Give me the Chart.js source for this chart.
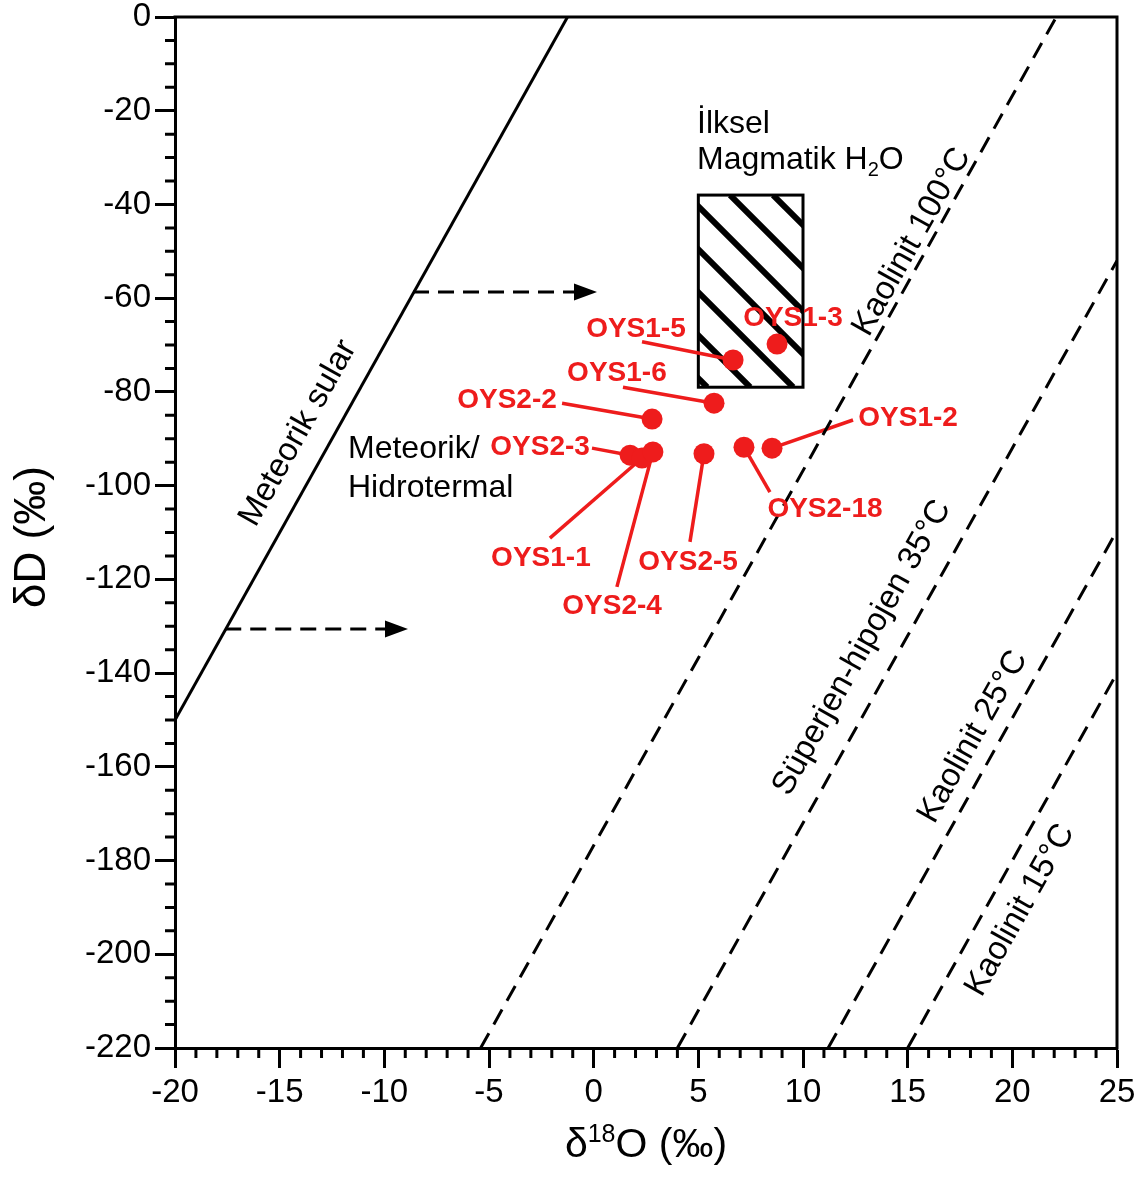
<!DOCTYPE html>
<html>
<head>
<meta charset="utf-8">
<title>δD - δ18O</title>
<script src="https://cdn.jsdelivr.net/npm/chart.js@4.4.1/dist/chart.umd.min.js"></script>
<style>
    html, body { margin: 0; padding: 0; background: #fff; }
    #wrap { width: 1147px; height: 1178px; }
</style>
</head>
<body>
<div id="wrap"><canvas id="isoChart" width="1147" height="1178"></canvas></div>
<script>
// Samples
const sampleNames = ['OYS1-3', 'OYS1-5', 'OYS1-6', 'OYS2-2', 'OYS2-3', 'OYS1-1', 'OYS2-4', 'OYS2-5', 'OYS2-18', 'OYS1-2'];
const sampleO = [8.76, 6.66, 5.75, 2.79, 1.74, 2.31, 2.83, 5.27, 7.18, 8.52];
const sampleD = [-69.8, -73.2, -82.4, -85.8, -93.5, -94.1, -92.8, -93.2, -91.8, -92.0];

// Reference lines, end points
const meteoricO = [-20, -1.25];
const meteoricD = [-150, 0];
const kaol100O = [-5.4, 22.1];
const kaol100D = [-220, 0];
const super35O = [4.0, 25];
const super35D = [-220, -52];
const kaol25O = [11.2, 25];
const kaol25D = [-220, -109.6];
const kaol15O = [15.0, 25];
const kaol15D = [-220, -140];

// Primary magmatic water field
const magmaticO = [5, 10];
const magmaticD = [-79, -38];

// Axis ranges / ticks
const xRange = [-20, 25];
const yRange = [-220, 0];
const xStep = 5, xMinor = 1;
const yStep = 20, yMinor = 5;

// Annotation layout (data units)
const sampleLabelPos = [
    [9.52, -64.2], [2.02, -66.6], [1.11, -76.0], [-4.14, -81.7], [-2.56, -91.8],
    [-2.52, -115.4], [0.88, -125.7], [4.51, -116.3], [11.05, -105.0], [15.02, -85.6]
];
const leaderStart = [
    null, [2.31, -69.3], [1.40, -79.0], [-1.51, -82.4], [-0.08, -92.0],
    [-2.09, -111.2], [1.11, -121.6], [4.60, -112.0], [8.42, -101.4], [12.39, -86.0]
];
const lineLabels = [
    { text: 'Meteorik sular', at: [-14.12, -88.8] },
    { text: 'Kaolinit 100°C', at: [15.2, -48.0] },
    { text: 'Süperjen-hipojen 35°C', at: [12.82, -134.6] },
    { text: 'Kaolinit 25°C', at: [18.12, -153.6] },
    { text: 'Kaolinit 15°C', at: [20.37, -190.6] }
];
const arrows = [
    [[-8.63, -58.7], [0.16, -58.7]],
    [[-17.6, -130.6], [-8.87, -130.6]]
];

const FONT = "'Liberation Sans', Arial, Helvetica, sans-serif";
const RED = '#ee1c1c';

const pairs = (xs, ys) => xs.map((v, i) => ({ x: v, y: ys[i] }));

const lineSet = (xs, ys, dashed) => ({
    type: 'line',
    data: pairs(xs, ys),
    borderColor: '#000',
    borderWidth: 3,
    borderDash: dashed ? [17, 10] : [],
    pointRadius: 0,
    fill: false,
    order: 2
});

function noPad(s) {
    s.paddingLeft = 0; s.paddingRight = 0; s.paddingTop = 0; s.paddingBottom = 0;
}

const overlay = {
    id: 'overlay',
    beforeDatasetsDraw(chart) {
        const { ctx, scales: { x, y } } = chart;
        const px = v => x.getPixelForValue(v);
        const py = v => y.getPixelForValue(v);

        // hatched magmatic box
        const L = px(magmaticO[0]), R = px(magmaticO[1]);
        const T = py(magmaticD[1]), B = py(magmaticD[0]);
        ctx.save();
        ctx.beginPath();
        ctx.rect(L, T, R - L, B - T);
        ctx.clip();
        ctx.strokeStyle = '#000';
        ctx.lineWidth = 6;
        // stripes x - y = c, going down-right
        const gap = 43;
        let c = 363;
        while (c > L - B) c -= gap;
        for (; c < R - T; c += gap) {
            ctx.beginPath();
            ctx.moveTo(T + c, T);
            ctx.lineTo(B + c, B);
            ctx.stroke();
        }
        ctx.restore();
        ctx.save();
        ctx.strokeStyle = '#000';
        ctx.lineWidth = 3;
        ctx.strokeRect(L, T, R - L, B - T);
        ctx.restore();

        // leader lines
        ctx.save();
        ctx.strokeStyle = RED;
        ctx.lineWidth = 3.5;
        leaderStart.forEach((p, i) => {
            if (!p) return;
            ctx.beginPath();
            ctx.moveTo(px(p[0]), py(p[1]));
            ctx.lineTo(px(sampleO[i]), py(sampleD[i]));
            ctx.stroke();
        });
        ctx.restore();

        // dashed arrows
        ctx.save();
        ctx.strokeStyle = '#000';
        ctx.fillStyle = '#000';
        ctx.lineWidth = 3;
        arrows.forEach(a => {
            const x0 = px(a[0][0]), y0 = py(a[0][1]);
            const x1 = px(a[1][0]), y1 = py(a[1][1]);
            ctx.setLineDash([16, 9]);
            ctx.beginPath();
            ctx.moveTo(x0, y0);
            ctx.lineTo(x1 - 16, y1);
            ctx.stroke();
            ctx.setLineDash([]);
            ctx.beginPath();
            ctx.moveTo(x1, y1);
            ctx.lineTo(x1 - 23, y1 - 8.5);
            ctx.lineTo(x1 - 23, y1 + 8.5);
            ctx.closePath();
            ctx.fill();
        });
        ctx.restore();
    },
    afterDraw(chart) {
        const { ctx, chartArea: ca, scales: { x, y } } = chart;
        const px = v => x.getPixelForValue(v);
        const py = v => y.getPixelForValue(v);

        ctx.save();
        ctx.strokeStyle = '#000';
        ctx.lineWidth = 3;
        // frame top / right
        ctx.beginPath();
        ctx.moveTo(ca.left - 1.5, ca.top);
        ctx.lineTo(ca.right, ca.top);
        ctx.lineTo(ca.right, ca.bottom + 1.5);
        ctx.stroke();
        // minor ticks
        ctx.beginPath();
        for (let v = yRange[0]; v <= yRange[1]; v += yMinor) {
            if (v % yStep === 0) continue;
            ctx.moveTo(ca.left, py(v));
            ctx.lineTo(ca.left - 10, py(v));
        }
        for (let v = xRange[0]; v <= xRange[1]; v += xMinor) {
            if (v % xStep === 0) continue;
            ctx.moveTo(px(v), ca.bottom);
            ctx.lineTo(px(v), ca.bottom + 10);
        }
        ctx.stroke();
        ctx.restore();

        // axis titles
        ctx.save();
        ctx.fillStyle = '#000';
        ctx.textBaseline = 'alphabetic';
        const big = '41px ' + FONT, small = '25px ' + FONT;
        ctx.font = big;
        const wA = ctx.measureText('δ').width;
        const wC = ctx.measureText('O (‰)').width;
        ctx.font = small;
        const wB = ctx.measureText('18').width;
        let xx = (ca.left + ca.right) / 2 - (wA + wB + wC) / 2;
        const base = 1157;
        ctx.font = big; ctx.textAlign = 'left';
        ctx.fillText('δ', xx, base); xx += wA;
        ctx.font = small;
        ctx.fillText('18', xx, base - 15); xx += wB;
        ctx.font = big;
        ctx.fillText('O (‰)', xx, base);

        ctx.font = '44px ' + FONT;
        ctx.translate(33, 537);
        ctx.rotate(-Math.PI / 2);
        ctx.textAlign = 'center';
        ctx.textBaseline = 'middle';
        ctx.fillText('δD (‰)', 0, 0);
        ctx.restore();

        // free text
        ctx.save();
        ctx.fillStyle = '#000';
        ctx.font = '32px ' + FONT;
        ctx.textAlign = 'left';
        ctx.textBaseline = 'alphabetic';
        ctx.fillText('İlksel', 697, 133);
        const mag = 'Magmatik H';
        ctx.fillText(mag, 697, 169);
        let mx = 697 + ctx.measureText(mag).width;
        ctx.font = '20px ' + FONT;
        ctx.fillText('2', mx, 176);
        mx += ctx.measureText('2').width;
        ctx.font = '32px ' + FONT;
        ctx.fillText('O', mx, 169);
        ctx.fillText('Meteorik/', 348, 458);
        ctx.fillText('Hidrotermal', 348, 497);
        ctx.restore();

        // labels along lines
        const ang = Math.atan2(py(8) - py(0), px(1) - px(0));
        ctx.save();
        ctx.fillStyle = '#000';
        ctx.font = '33px ' + FONT;
        ctx.textAlign = 'center';
        ctx.textBaseline = 'middle';
        lineLabels.forEach(l => {
            ctx.save();
            ctx.translate(px(l.at[0]), py(l.at[1]));
            ctx.rotate(ang);
            ctx.fillText(l.text, 0, 0);
            ctx.restore();
        });
        ctx.restore();

        // sample labels
        ctx.save();
        ctx.fillStyle = RED;
        ctx.font = 'bold 28px ' + FONT;
        ctx.textAlign = 'center';
        ctx.textBaseline = 'middle';
        sampleNames.forEach((n, i) => {
            ctx.fillText(n, px(sampleLabelPos[i][0]), py(sampleLabelPos[i][1]));
        });
        ctx.restore();
    }
};

const tickFont = { family: FONT, size: 33 };

new Chart(document.getElementById('isoChart'), {
    type: 'scatter',
    data: {
        datasets: [
            {
                label: 'Samples',
                data: pairs(sampleO, sampleD),
                backgroundColor: RED,
                borderColor: RED,
                borderWidth: 0,
                pointRadius: 10.5,
                order: 0
            },
            lineSet(meteoricO, meteoricD, false),
            lineSet(kaol100O, kaol100D, true),
            lineSet(super35O, super35D, true),
            lineSet(kaol25O, kaol25D, true),
            lineSet(kaol15O, kaol15D, true)
        ]
    },
    options: {
        responsive: false,
        animation: false,
        devicePixelRatio: 1,
        layout: { padding: { top: 17, right: 30, bottom: 0, left: 0 } },
        plugins: { legend: { display: false }, tooltip: { enabled: false } },
        scales: {
            x: {
                type: 'linear',
                min: xRange[0],
                max: xRange[1],
                ticks: { stepSize: xStep, font: tickFont, color: '#000', padding: 5, maxRotation: 0 },
                grid: { drawOnChartArea: false, tickLength: 20, tickWidth: 3, tickColor: '#000' },
                border: { width: 3, color: '#000' },
                afterFit: s => { s.height = 130; noPad(s); }
            },
            y: {
                type: 'linear',
                min: yRange[0],
                max: yRange[1],
                ticks: { stepSize: yStep, font: tickFont, color: '#000', padding: 4 },
                grid: { drawOnChartArea: false, tickLength: 20, tickWidth: 3, tickColor: '#000' },
                border: { width: 3, color: '#000' },
                afterFit: s => { s.width = 175; noPad(s); }
            }
        }
    },
    plugins: [overlay]
});
</script>
</body>
</html>
